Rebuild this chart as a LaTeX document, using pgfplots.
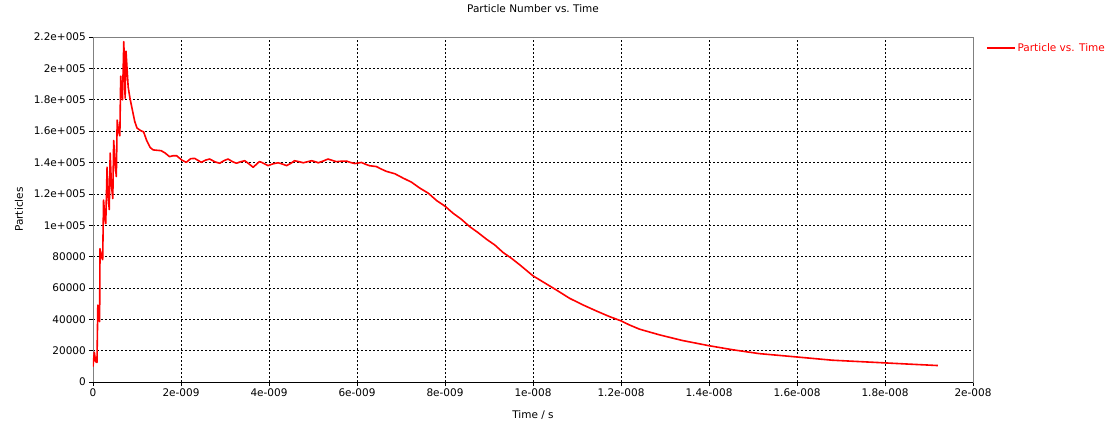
\documentclass[border=0pt]{standalone}
\usepackage{fontspec}
\setmainfont{DejaVu Sans}
\usepackage{pgfplots}
\pgfplotsset{compat=1.18}
\begin{document}
\fontsize{10.5}{12.6}\selectfont
\begin{tikzpicture}
\useasboundingbox (-93pt,-42pt) rectangle (1016pt,382pt);
\begin{axis}[
  scale only axis,
  width=880pt, height=345pt,
  xmin=0, xmax=20, ymin=0, ymax=220000,
  xtick={0,2,4,6,8,10,12,14,16,18,20},
  xticklabels={0,2e-009,4e-009,6e-009,8e-009,1e-008,1.2e-008,1.4e-008,1.6e-008,1.8e-008,2e-008},
  ytick={0,20000,40000,60000,80000,100000,120000,140000,160000,180000,200000,220000},
  yticklabels={0,20000,40000,60000,80000,1e+005,1.2e+005,1.4e+005,1.6e+005,1.8e+005,2e+005,2.2e+005},
  scaled ticks=false,
  tick align=outside,
  xtick pos=bottom, ytick pos=left,
  major tick length=4pt,
  tick style={black, line width=0.6pt},
  axis line style={gray, line width=0.9pt},
  grid=major,
  grid style={black, dash pattern=on 2pt off 2pt, line width=0.5pt},
  yticklabel style={inner sep=0pt, xshift=-3pt, font=\fontsize{10.5}{12}\selectfont},
  xticklabel style={inner sep=0pt, yshift=-3pt, font=\fontsize{10.5}{12}\selectfont},
  title={Particle Number vs.\ Time},
  title style={at={(axis description cs:0.5,1.0638)}, anchor=center, inner sep=0pt},
  xlabel={Time / s},
  xlabel style={at={(axis description cs:0.5,-0.0957)}, anchor=center, inner sep=0pt},
  ylabel={Particles},
  ylabel style={at={(axis description cs:-0.0841,0.5)}, anchor=center, inner sep=0pt},
  legend style={at={(axis description cs:1,1)}, anchor=north west, xshift=13pt, yshift=-4pt,
    draw=none, fill=none, inner sep=0pt, font=\color{red}\fontsize{10.5}{12}\selectfont,
    /tikz/every even column/.append style={column sep=5pt}},
  legend cell align=left,
  legend image code/.code={\draw[red, line width=1.4pt] (0pt,0pt) -- (28pt,0pt);},
]
\addplot[red, line width=1.6pt, line join=round] coordinates {
(0,9800) (0.03,19000) (0.06,13000) (0.09,12500) (0.11,49000) (0.13,43000) (0.15,38500)
(0.16,85000) (0.19,80000) (0.22,78000) (0.24,116000) (0.27,105000) (0.29,101000)
(0.32,137000) (0.34,120000) (0.37,110000) (0.39,146000) (0.42,125000) (0.45,117000)
(0.47,154000) (0.50,140000) (0.53,131000) (0.55,167000) (0.58,160000) (0.61,157000)
(0.63,195000) (0.65,185000) (0.67,180000) (0.70,217000) (0.72,195000) (0.73,181000)
(0.75,211000) (0.78,197000) (0.80,188000) (0.84,181000) (0.88,175500) (0.92,170000)
(0.95,166000) (1.0,162000) (1.07,160500) (1.15,159500) (1.22,154000) (1.30,149500)
(1.37,148000) (1.55,147500) (1.64,146000) (1.74,143700) (1.82,144300) (1.90,144300)
(2.02,141500) (2.12,140100) (2.22,142400) (2.31,142600) (2.46,140100) (2.56,141500)
(2.65,142200) (2.78,140300) (2.88,139500) (2.98,141200) (3.07,142200) (3.17,140500)
(3.26,139500) (3.36,140500) (3.45,141100) (3.55,139000) (3.64,136900) (3.72,139000)
(3.78,140500) (3.83,140100) (3.98,138000) (4.10,139200) (4.21,139800) (4.30,139000)
(4.40,138000) (4.50,139500) (4.58,141100) (4.68,140500) (4.78,139800) (4.88,140500)
(4.97,141100) (5.05,140500) (5.12,139800) (5.24,141000) (5.34,142200) (5.44,141300)
(5.53,140500) (5.65,140800) (5.76,140900) (5.85,140000) (5.95,139300) (6.10,140000)
(6.20,138800) (6.29,137900) (6.44,137400) (6.55,135800) (6.67,134300) (6.86,132800)
(7.05,130000) (7.24,127400) (7.43,123600) (7.62,120400) (7.81,115700) (8.01,111900)
(8.18,107700) (8.37,103800) (8.56,99100) (8.75,95300) (8.94,91100) (9.13,87400)
(9.32,82600) (9.51,78900) (9.70,74700) (10.0,67700) (10.3,62600) (10.53,58700)
(10.83,53400) (11.14,49100) (11.44,45300) (11.74,41700) (12.0,39000) (12.19,36400)
(12.42,33700) (12.87,30100) (13.39,26500) (13.99,23200) (14.53,20600) (15.14,18100)
(15.98,16000) (16.80,13900) (17.99,12200) (18.69,11200) (19.2,10500)
};
\addlegendentry{Particle vs. Time}
\draw[black, line width=0.8pt] (rel axis cs:0,0) -- (rel axis cs:1,0);
\end{axis}
\end{tikzpicture}
\end{document}
